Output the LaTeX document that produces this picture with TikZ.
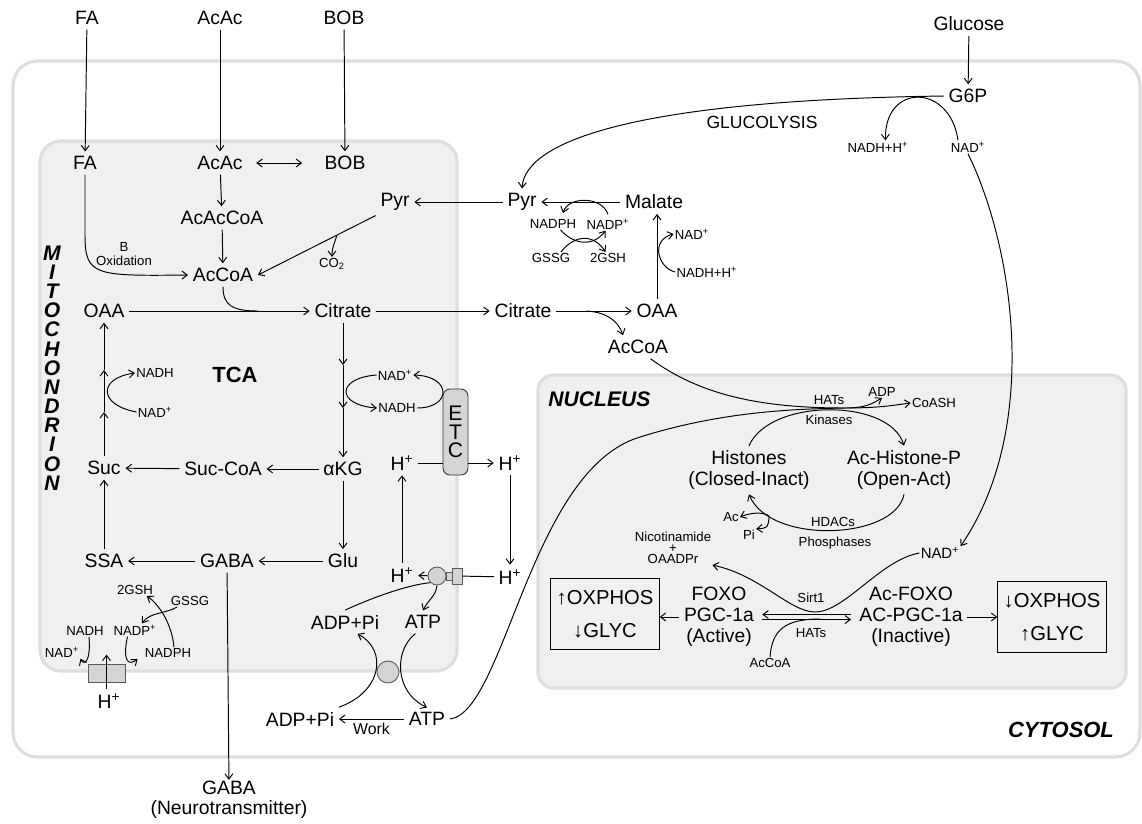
\documentclass[tikz,border=0pt]{standalone}
\usepackage{fontspec}
\setmainfont{Liberation Sans}
\usetikzlibrary{arrows.meta,positioning}
\newcommand{\plusup}{\textsuperscript{+}}

\begin{document}
\begin{tikzpicture}[
        x=0.02cm, y=-0.02cm,
        >={Straight Barb[length=3pt,width=4.5pt]},
        line width=0.55pt,
        lbl/.style={font=\fontsize{11}{12}\selectfont, inner sep=2.5pt},
        two/.style={lbl, align=center, font=\fontsize{11}{11.9}\selectfont},
        sml/.style={font=\fontsize{7.5}{8}\selectfont, inner sep=0.5pt},
        region/.style={draw=black!13, line width=1.8pt},
        compname/.style={font=\fontsize{12}{14}\selectfont\bfseries\itshape, inner sep=0pt},
        effect/.style={draw, line width=0.6pt, align=center, font=\fontsize{11.5}{18.5}\selectfont, minimum width=2.1cm, minimum height=1.42cm},
        pump/.style={draw=black!65, fill=black!17, line width=0.5pt, inner sep=0pt},
        etcbox/.style={pump, draw=black!80, rounded corners=4pt, minimum width=0.5cm, minimum height=1.72cm, align=center, font=\fontsize{12}{10.5}\selectfont}
    ]
        \useasboundingbox (0,0) rectangle (1142,823);
        \draw[region, fill=white, rounded corners=14pt] (13,61) rectangle (1140,757);
        \draw[region, fill=black!6, rounded corners=12pt] (40,141) rectangle (457,671);
        \draw[region, fill=black!6, rounded corners=9pt] (538,375) rectangle (1126,688);

        \node[compname, align=center, font=\fontsize{12}{10.9}\selectfont\bfseries\itshape] (mitolbl) at (52,368) {M\\I\\T\\O\\C\\H\\O\\N\\D\\R\\I\\O\\N};
        \node[compname, anchor=west] (nuclbl) at (548,399) {NUCLEUS};
        \node[compname, font=\fontsize{12.5}{14}\selectfont\bfseries\itshape] (cytolbl) at (1061,730) {CYTOSOL};
        \node[font=\fontsize{12.5}{14}\selectfont\bfseries] (tca) at (235,375) {TCA};

        \node[lbl] (FAout) at (87,18) {FA};
        \node[lbl] (AcAcout) at (220,18) {AcAc};
        \node[lbl] (BOBout) at (344,18) {BOB};
        \node[lbl] (Glucose) at (969,24) {Glucose};
        \node[lbl] (G6P) at (968,96) {G6P};
        \node[font=\fontsize{10}{12}\selectfont] (glyco) at (762,122) {GLUCOLYSIS};
        \node[sml] (NADHHg) at (878,147) {NADH+H\plusup};
        \node[sml] (NADg) at (968,147) {NAD\plusup};

        \node[lbl] (FA) at (85,163) {FA};
        \node[lbl] (AcAc) at (220,163) {AcAc};
        \node[lbl] (BOB) at (345,163) {BOB};
        \node[lbl] (AcAcCoA) at (222,218) {AcAcCoA};
        \node[lbl] (AcCoA) at (223,275) {AcCoA};
        \node[lbl] (PyrM) at (395,202) {Pyr};
        \node[sml, align=center, font=\fontsize{7.5}{8.5}\selectfont] (betaox) at (124,254) {B\\Oxidation};
        \node[sml] (CO2) at (332,264) {CO\textsubscript{2}};
        \node[lbl] (OAA) at (104,311) {OAA};
        \node[lbl] (Citrate) at (343,311) {Citrate};
        \node[sml] (NADHa) at (155,373) {NADH};
        \node[sml] (NADa) at (155,412) {NAD\plusup};
        \node[sml] (NADb) at (395,375) {NAD\plusup};
        \node[sml] (NADHb) at (397,408) {NADH};
        \node[lbl] (Suc) at (104,468) {Suc};
        \node[lbl] (SucCoA) at (223,469) {Suc-CoA};
        \node[lbl] (aKG) at (343,469) {αKG};
        \node[lbl] (Hin) at (402,463) {H\plusup};
        \node[lbl] (Hout) at (510,463) {H\plusup};
        \node[lbl] (SSA) at (104,561) {SSA};
        \node[lbl] (GABA) at (227,561) {GABA};
        \node[lbl] (Glu) at (343,561) {Glu};
        \node[lbl] (Hsyn) at (402,575) {H\plusup};
        \node[lbl] (Hback) at (510,577) {H\plusup};
        \node[lbl] (ADPa) at (345,622) {ADP+Pi};
        \node[lbl] (ATPa) at (423,622) {ATP};
        \node[lbl] (ADPb) at (300,719) {ADP+Pi};
        \node[lbl] (ATPb) at (427,719) {ATP};
        \node[lbl, inner sep=0.5pt] (GABAout) at (229,788) {GABA};
        \node[lbl, inner sep=0.5pt] (neuro) at (229,809) {(Neurotransmitter)};

        \node[sml] (NADHc) at (85,631) {NADH};
        \node[sml] (NADc) at (62,652) {NAD\plusup};
        \node[sml] (NADPc) at (135,630) {NADP\plusup};
        \node[sml] (NADPHc) at (168,653) {NADPH};
        \node[sml] (GSSGc) at (190,601) {GSSG};
        \node[sml] (GSHc) at (135,590) {2GSH};
        \node[lbl] (Hpump) at (109,701) {H\plusup};

        \node[lbl] (PyrC) at (522,202) {Pyr};
        \node[lbl] (Malate) at (654,202) {Malate};
        \node[sml] (NADPHd) at (553,224) {NADPH};
        \node[sml] (NADPd) at (608,224) {NADP\plusup};
        \node[sml] (GSSGd) at (551,258) {GSSG};
        \node[sml] (GSHd) at (608,258) {2GSH};
        \node[sml] (NADd) at (692,234) {NAD\plusup};
        \node[sml] (NADHHd) at (707,272) {NADH+H\plusup};
        \node[lbl] (CitC) at (523,311) {Citrate};
        \node[lbl] (OAAC) at (657,311) {OAA};
        \node[lbl] (AcCoAC) at (638,347) {AcCoA};

        \node[sml] (HATsa) at (829,400) {HATs};
        \node[sml] (Kin) at (829,420) {Kinases};
        \node[sml] (ADP) at (882,392) {ADP};
        \node[sml] (CoASH) at (934,403) {CoASH};
        \node[two] (Hist) at (749,470) {Histones\\(Closed-Inact)};
        \node[two] (AcHist) at (904,470) {Ac-Histone-P\\(Open-Act)};
        \node[sml] (HDACs) at (833,522) {HDACs};
        \node[sml] (Phos) at (835,543) {Phosphases};
        \node[sml] (Ac) at (731,517) {Ac};
        \node[sml] (Pi) at (749,535) {Pi};
        \node[sml, align=center, font=\fontsize{7.5}{6.2}\selectfont] (Nico) at (673,548) {Nicotinamide\\+\\OAADPr};
        \node[font=\fontsize{8.5}{10}\selectfont, inner sep=0.5pt] (NADn) at (940,553) {NAD\plusup};
        \node[two] (FOXO) at (719,617) {FOXO\\PGC-1a\\(Active)};
        \node[two] (AcFOXO) at (911,617) {Ac-FOXO\\AC-PGC-1a\\(Inactive)};
        \node[sml] (Sirt) at (811,598) {Sirt1};
        \node[sml] (HATsb) at (811,633) {HATs};
        \node[sml] (AcCoAn) at (770,663) {AcCoA};
        \node[effect] (upox) at (605,614) {↑OXPHOS\\↓GLYC};
        \node[effect] (downox) at (1052,617) {↓OXPHOS\\↑GLYC};

        \draw[->] (FAout) -- (FA);
        \draw[->] (AcAcout) -- (AcAc);
        \draw[->] (BOBout) -- (BOB);
        \draw[->] (Glucose) -- (G6P);
        \draw[<->, shorten <=5pt, shorten >=10pt] (AcAc) -- (BOB);
        \draw[->] (AcAc) -- (AcAcCoA);
        \draw[->] (AcAcCoA) -- (AcCoA);
        \draw[->] (FA.south) -- (85,235) .. controls (85,276) and (95,276) .. (AcCoA.west);
        \draw[->] (PyrC) -- (PyrM);
        \draw[->] (PyrM.south west) -- (AcCoA.east) coordinate[pos=0.33] (decarb);
        \draw[->] (decarb) .. controls (336,240) and (332,246) .. (CO2.north);
        \draw (AcCoA.south) .. controls (223,305) and (232,311) .. (258,311);
        \draw[->] (OAA) -- (Citrate);
        \draw[->] (Citrate) -- (CitC);

        \coordinate (cit1) at (343,365);
        \coordinate (cit2) at (343,408);
        \draw[->] (Citrate) -- (cit1);
        \draw[->] (cit1) -- (cit2);
        \draw[->] (cit2) -- (aKG);
        \draw[->] (NADb.west) .. controls (336,378) and (336,405) .. (NADHb.west);
        \draw[->] (NADHb.east) .. controls (452,408) and (452,376) .. (NADb.east);
        \node[etcbox] (ETC) at (455.5,432) {E\\T\\C};
        \draw (Hin) -- (Hin -| ETC.west);
        \draw[->] (Hout -| ETC.east) -- (Hout);

        \coordinate (oaa1) at (104,412);
        \coordinate (oaa2) at (104,370);
        \draw[->] (Suc) -- (oaa1);
        \draw[->] (oaa1) -- (oaa2);
        \draw[->] (oaa2) -- (OAA);
        \draw[->] (NADa.west) .. controls (98,405) and (98,378) .. (NADHa.west);
        \draw[->] (aKG) -- (SucCoA);
        \draw[->] (SucCoA) -- (Suc);
        \draw[->] (aKG) -- (Glu);
        \draw[->] (Glu) -- (GABA);
        \draw[->] (GABA) -- (SSA);
        \draw[->] (SSA) -- (Suc);
        \draw[->] (GABA) -- (GABAout);
        \draw[->] (Hout) -- (Hback);
        \draw[->] (Hsyn) -- (Hin);

        \node[pump, circle, minimum size=0.36cm] (F1) at (437,576) {};
        \node[pump, minimum width=0.12cm, minimum height=0.16cm] (neck) at (449,576) {};
        \node[pump, minimum width=0.2cm, minimum height=0.32cm] (Fo) at (457,576) {};
        \draw (Hback) -- (Fo);
        \draw[->] (F1) -- (Hsyn);
        \draw (ADPa.north) .. controls (385,592) and (415,584) .. (F1.south west);
        \draw[->] (F1.south) .. controls (436,596) and (428,600) .. (ATPa.north);

        \draw[->] (ADPb.north east) .. controls (382,692) and (388,650) .. ([xshift=0.25cm]ADPa.south);
        \draw[->] ([xshift=-0.15cm]ATPa.south) .. controls (394,650) and (394,692) .. (ATPb.north);
        \node[pump, circle, minimum size=0.44cm] (F0) at (388,672) {};
        \draw[->] (ATPb) -- (ADPb) node[midway, below=1.5pt, inner sep=0.5pt, font=\fontsize{9}{10}\selectfont] (work) {Work};

        \node[pump, minimum width=0.74cm, minimum height=0.36cm] (pumpbox) at (106.5,673) {};
        \draw[->] (pumpbox.south |- Hpump.north) -- ([yshift=0.18cm]pumpbox.north);
        \draw[->] ([xshift=0.08cm]NADHc.south) .. controls (91,662) and (84,666) .. (NADc.south east);
        \draw[->] ([xshift=-0.15cm]NADPc.south) .. controls (122,662) and (129,666) .. ([xshift=-0.12cm]NADPHc.south west);
        \draw[->] ([xshift=0.12cm]NADPHc.north) .. controls (172,625) and (160,605) .. ([xshift=-0.15cm]GSHc.south east);
        \draw[->] ([xshift=0.15cm]GSSGc.south west) .. controls (165,614) and (150,612) .. ([xshift=0.14cm]NADPc.north);

        \draw[->] (G6P.west) .. controls (640,100) and (525,140) .. (PyrC.north);
        \draw[->] ([xshift=-0.2cm]NADg.north) .. controls (950,83) and (884,83) .. ([xshift=0.15cm]NADHHg.north);
        \draw[->] (NADg.south) .. controls (1015,250) and (1040,430) .. (NADn.north east);
        \draw[->] (Malate) -- (PyrC);
        \draw[->] ([yshift=0.06cm]NADPd.north) .. controls (602,196) and (568,196) .. ([xshift=0.2cm, yshift=0.1cm]NADPHd.north);
        \draw[->] ([xshift=0.15cm]NADPHd.south) .. controls (575,246) and (594,246) .. ([xshift=-0.05cm]NADPd.south);
        \draw[->] ([xshift=0.2cm]GSSGd.north) .. controls (575,234) and (594,234) .. ([xshift=-0.05cm]GSHd.north);
        \draw[->] (OAAC.north) -- (OAAC.north |- Malate.south);
        \draw[->] (NADHHd.west) .. controls (658,268) and (650,240) .. (NADd.west);
        \draw[->] (CitC) -- (OAAC) coordinate[pos=0.4] (cleave);
        \draw[->] (cleave) .. controls (605,312) and (618,320) .. ([xshift=-0.3cm]AcCoAC.north);

        \coordinate (hub) at (845,408);
        \draw (ATPb.east) .. controls (505,712) and (530,470) .. (640,437) .. controls (720,412) and (790,409) .. (hub);
        \draw ([xshift=0.25cm]AcCoAC.south) .. controls (700,395) and (760,408) .. (hub);
        \draw[->] (hub) .. controls (865,408) and (872,404) .. (ADP.south);
        \draw[->] (hub) .. controls (880,408) and (895,405) .. (CoASH.west);
        \draw[->] (Hist.north) .. controls (770,398) and (890,398) .. (AcHist.north);
        \draw[->] (AcHist.south) .. controls (895,540) and (770,545) .. (Hist.south) coordinate[pos=0.82] (deac);
        \draw[->] (deac) .. controls (765,512) and (752,512) .. (Ac.east);
        \draw[->] (deac) .. controls (768,528) .. (Pi.north east);
        \draw[->] (NADn.west) .. controls (880,560) and (845,612) .. (815,612) .. controls (790,612) and (760,575) .. (Nico.south east);
        \draw (AcCoAn.north) .. controls (772,630) and (785,619) .. (820,619);
        \draw[->, shorten <=2pt, shorten >=2pt] ([yshift=0.05cm]AcFOXO.west) -- ([yshift=0.05cm]FOXO.east);
        \draw[->, shorten <=2pt, shorten >=2pt] ([yshift=-0.05cm]FOXO.east) -- ([yshift=-0.05cm]AcFOXO.west);
        \draw[->] (FOXO.west) -- (FOXO.west -| upox.east);
        \draw[->] (AcFOXO.east) -- (AcFOXO.east -| downox.west);
    \end{tikzpicture}
\end{document}
